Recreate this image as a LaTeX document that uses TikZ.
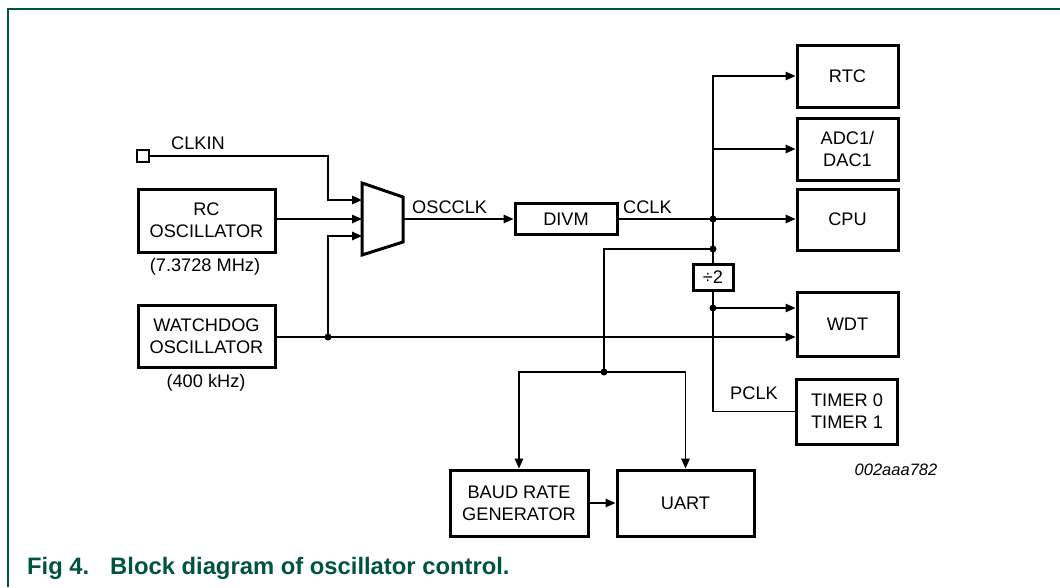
\documentclass[tikz,border=0pt]{standalone}
\usepackage{fontspec}
\setmainfont{Liberation Sans}
\usetikzlibrary{arrows.meta,calc}
\definecolor{nxpgreen}{RGB}{0,84,62}
\begin{document}
\begin{tikzpicture}[x=1pt,y=-1pt,
  txt/.style={font=\fontsize{18.2}{22}\selectfont, inner sep=0pt, align=center},
  blk/.style={draw, line width=3pt, txt, minimum width=#1},
  blk/.default=101pt,
  con/.style={line width=1.6pt},
  arr/.style={con, -{Triangle[length=10pt,width=8.5pt]}},
  jdot/.style={circle, fill, inner sep=0pt, minimum size=7pt},
  framestyle/.style={draw=nxpgreen, line width=2pt},
  captxt/.style={font=\fontsize{23.8}{28}\selectfont\bfseries, text=nxpgreen, inner sep=0pt, anchor=base west}
]
\useasboundingbox (0,0) rectangle (1060,587);
\draw[framestyle] (8,587) -- (8,9) -- (1060,9);

% blocks
\node[draw, line width=2.5pt, minimum size=12pt, inner sep=0pt] (clkin) at (143,156) {};
\node[blk=137pt, minimum height=63pt] (rc) at (206.5,220.5) {RC\\OSCILLATOR};
\node[blk=137pt, minimum height=62pt] (wd) at (206.5,336.5) {WATCHDOG\\OSCILLATOR};
\node[blk=102pt, minimum height=31pt] (divm) at (566,219) {DIVM};
\node[blk, minimum height=62pt] (rtc) at (847.5,76) {RTC};
\node[blk, minimum height=62pt] (adc) at (847.5,149) {ADC1/\\DAC1};
\node[blk, minimum height=61pt] (cpu) at (847.5,219.5) {CPU};
\node[draw, line width=3pt, txt, minimum width=40pt, minimum height=26pt] (div2) at (713,277.5) {÷2};
\node[blk, minimum height=64pt] (wdt) at (847.5,324) {WDT};
\node[blk, minimum height=65pt] (timer) at (847,411.5) {TIMER 0\\TIMER 1};
\node[blk=138pt, minimum height=66pt] (baud) at (519,503) {BAUD RATE\\GENERATOR};
\node[blk=137pt, minimum height=66pt] (uart) at (685.5,503) {UART};

% multiplexer
\draw[line width=3pt, line join=miter] (362,183) -- (403,197) -- (403,242) -- (362,255) -- cycle;
\coordinate (m1) at (362,200);
\coordinate (m2) at (362,219);
\coordinate (m3) at (362,236);
\coordinate (mo) at (403,219);

% junctions
\coordinate (cj) at (328,156);
\coordinate (wdj) at (328,337);
\coordinate (bus1) at (713,219);
\coordinate (bj) at (713,249);
\coordinate (bb) at (604,372);
\coordinate (pj) at (713,308);

% connectors
\draw[arr] (clkin.east) -- (cj) |- (m1);
\draw[arr] (rc.east |- m2) -- (m2);
\draw[arr] (wd.east |- wdj) -- (wdj) -- (wdt.west |- wdj);
\draw[arr] (wdj) |- (m3);
\draw[arr] (mo) -- (divm.west |- mo);
\draw[arr] (divm.east |- bus1) -- (cpu.west |- bus1);
\draw[arr] (div2.north) -- (bus1 |- rtc.west) -- (rtc.west);
\draw[arr] (bus1 |- adc.west) -- (adc.west);
\draw[con] (bj) -| (bb);
\draw[arr] (bb) -| (baud.north);
\draw[arr] (bb) -| (uart.north);
\draw[arr] (baud.east) -- (uart.west);
\draw[con] (div2.south) -- (pj) |- (timer.west);
\draw[arr] (pj) -- (wdt.west |- pj);

% dots
\node[jdot] at (wdj) {};
\node[jdot] at (bus1) {};
\node[jdot] at (bj) {};
\node[jdot] at (bb) {};
\node[jdot] at (pj) {};

% labels
\node[txt, anchor=west] (lclkin) at (171,143) {CLKIN};
\node[txt] (lrc) at (205,267) {(7.3728 MHz)};
\node[txt] (lwd) at (206,383) {(400 kHz)};
\node[txt, anchor=west] (losc) at (412,207) {OSCCLK};
\node[txt, anchor=west] (lcclk) at (623,207) {CCLK};
\node[txt] (lpclk) at (754,393) {PCLK};
\node[font=\fontsize{16.5}{18}\selectfont\itshape, inner sep=0pt] (ref) at (896,470) {002aaa782};

% caption
\node[captxt] (fig) at (27,574) {Fig 4.};
\node[captxt] (title) at (110,574) {Block diagram of oscillator control.};
\end{tikzpicture}
\end{document}
